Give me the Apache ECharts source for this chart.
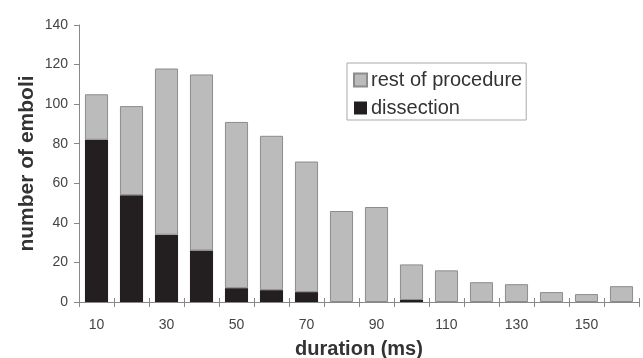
<!DOCTYPE html>
<html><head><meta charset="utf-8">
<script src="https://cdn.jsdelivr.net/npm/echarts@6/dist/echarts.min.js"></script>
<style>html,body{margin:0;padding:0;background:#fff}#c{width:643px;height:358px}</style>
</head><body><div id="c"></div>
<script>
const categories = ['10','20','30','40','50','60','70','80','90','100','110','120','130','140','150','160'];
const totalEmboli = [105,99,118,115,91,84,71,46,48,19,16,10,9,5,4,8];
const dissection = [82,54,34,26,7,6,5,0,0,1,0,0,0,0,0,0];
const restOfProcedure = totalEmboli.map((t,i)=>t-dissection[i]);
const yTicks = [0,20,40,60,80,100,120,140];

const chart = echarts.init(document.getElementById('c'), null, {renderer:'canvas'});
const font = 'Liberation Sans, Arial, sans-serif';
chart.setOption({
  backgroundColor:'#fff',
  animation:false,
  grid:{left:79,right:4,top:25,bottom:56,containLabel:false,outerBoundsMode:'none'},
  legend:{
    orient:'vertical', left:347, top:63, itemWidth:13, itemHeight:13, itemGap:8,
    icon:'rect',
    padding:[7,4,2,6], borderColor:'#aaa', borderWidth:1,
    textStyle:{fontFamily:font,fontSize:20,color:'#333',padding:[0,0,0,-1]},
    data:['rest of procedure','dissection']
  },
  xAxis:[{
    type:'category', data:categories,
    axisLine:{lineStyle:{color:'#888',width:1}},
    axisTick:{show:true,interval:0,length:5,lineStyle:{color:'#888'}},
    axisLabel:{interval:1,fontFamily:font,fontSize:14,color:'#444',margin:16},
    name:'duration (ms)', nameLocation:'middle', nameGap:37, nameMoveOverlap:false,
    nameTextStyle:{fontFamily:font,fontSize:20,fontWeight:'bold',color:'#333'}
  },{
    type:'category', data:categories, position:'bottom',
    axisLine:{show:false},
    axisTick:{show:true,interval:0,inside:true,length:4,lineStyle:{color:'#888'}},
    axisLabel:{show:false}
  }],
  yAxis:{
    type:'value', min:0, max:140, interval:20,
    axisLine:{show:true,lineStyle:{color:'#888'}},
    axisTick:{show:true,length:5,lineStyle:{color:'#888'}},
    splitLine:{show:false},
    axisLabel:{fontFamily:font,fontSize:14,color:'#444',margin:11},
    name:'number of emboli', nameLocation:'middle', nameGap:41, nameMoveOverlap:false,
    nameTextStyle:{fontFamily:font,fontSize:21,fontWeight:'bold',color:'#333'}
  },
  series:[
    {name:'dissection',type:'bar',stack:'a',data:dissection,barWidth:'66%',
      itemStyle:{color:'#231f20',borderWidth:0}},
    {name:'rest of procedure',type:'bar',stack:'a',data:restOfProcedure,barWidth:'66%',
      itemStyle:{color:'#bbbbbb',borderColor:'#8c8c8c',borderWidth:1}}
  ]
});
</script></body></html>
